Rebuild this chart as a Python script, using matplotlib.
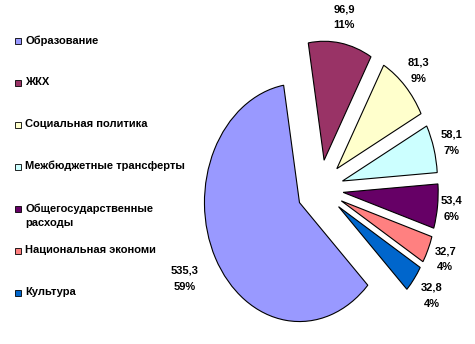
import numpy as np
import matplotlib
matplotlib.use('Agg')
import matplotlib.pyplot as plt
from matplotlib.patches import Rectangle

plt.rcParams['font.family'] = ['Liberation Sans', 'DejaVu Sans']

categories = ['Образование', 'ЖКХ', 'Социальная политика', 'Межбюджетные трансферты',
              'Общегосударственные\nрасходы', 'Национальная экономи', 'Культура']
values = [535.3, 96.9, 81.3, 58.1, 53.4, 32.7, 32.8]
value_labels = ['535,3', '96,9', '81,3', '58,1', '53,4', '32,7', '32,8']
percent_labels = ['59%', '11%', '9%', '7%', '6%', '4%', '4%']
colors = ['#9999FF', '#993366', '#FFFFCC', '#CCFFFF', '#660066', '#FF8080', '#0066CC']

W, H = 475, 344
fig = plt.figure(figsize=(W / 100, H / 100), dpi=100)
fig.patch.set_facecolor('white')
ax = fig.add_axes([0, 0, 1, 1])

expl = 0.245
wedges, _ = ax.pie(values, colors=colors, startangle=-44, counterclock=False,
                   explode=[expl] * len(values),
                   wedgeprops=dict(edgecolor='black', linewidth=0.8))
# picture is squeezed horizontally -> elliptical pie
ax.set_aspect('auto')
ax.set_xlim(-3.369, 1.631)
ax.set_ylim(-1.303, 1.588)
ax.axis('off')

label_r = [1.37, 1.22, 1.19, 1.19, 1.15, 1.2, 1.23]
for w, vl, pl, r in zip(wedges, value_labels, percent_labels, label_r):
    ang = np.deg2rad((w.theta1 + w.theta2) / 2)
    cx, cy = w.center
    ax.text(cx + r * np.cos(ang), cy + r * np.sin(ang), vl + '\n' + pl,
            ha='center', va='center', fontsize=8, fontweight='bold',
            linespacing=1.8)

# legend drawn by hand (uniform spacing like the original)
for i, (lab, col) in enumerate(zip(categories, colors)):
    yc = 41 + 42 * i
    fig.add_artist(Rectangle((15 / W, 1 - (yc + 3) / H), 6 / W, 6 / H,
                             transform=fig.transFigure, facecolor=col,
                             edgecolor='black', linewidth=0.6))
    fig.text(25 / W, 1 - (yc - 6) / H, lab, ha='left', va='top',
             fontsize=8, fontweight='bold', linespacing=1.6)

fig.savefig('out.png', dpi=100)
